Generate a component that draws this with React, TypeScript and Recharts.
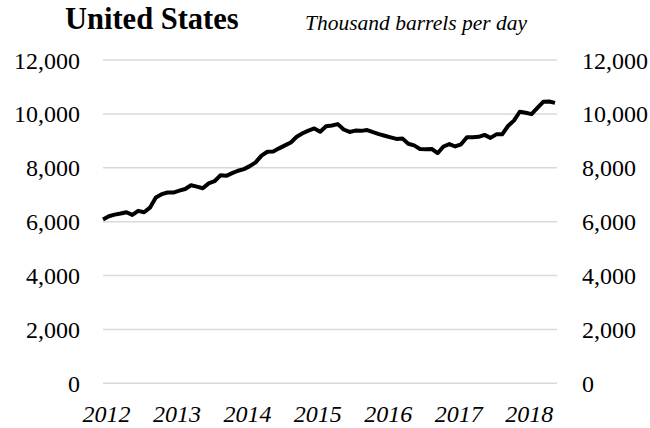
import React from "react";
import { LineChart, Line, XAxis, YAxis, CartesianGrid } from "recharts";

const months: number[] = Array.from({ length: 78 }, (_, i) => i);
const production: number[] = [
  6080, 6200, 6260, 6300, 6350, 6250, 6400, 6350, 6520, 6900,
  7020, 7080, 7080, 7150, 7210, 7350, 7300, 7240, 7420, 7500,
  7720, 7700, 7800, 7890, 7950, 8060, 8200, 8450, 8594, 8600,
  8720, 8830, 8940, 9150, 9280, 9380, 9460, 9340, 9540, 9570,
  9620, 9420, 9330, 9380, 9370, 9400, 9320, 9250, 9190, 9130,
  9070, 9090, 8890, 8830, 8700, 8690, 8700, 8540, 8790, 8880,
  8790, 8870, 9130, 9130, 9150, 9220, 9110, 9240, 9240, 9550,
  9750, 10080, 10040, 9990, 10220, 10450, 10460, 10410,
];
const yearTicks: number[] = [0, 12, 24, 36, 48, 60, 72];
const yearLabels: string[] = ["2012", "2013", "2014", "2015", "2016", "2017", "2018"];
const yTicks: number[] = [0, 2000, 4000, 6000, 8000, 10000, 12000];

const data = months.map((m, i) => ({ m, v: production[i] }));

const FONT = '"Liberation Serif", "Times New Roman", serif';

const fmt = (v: number) => v.toLocaleString("en-US");

export default function App() {
  return (
    <div style={{ position: "absolute", left: 0, top: 0, width: 650, height: 428, background: "#fff" }}>
      <LineChart
        width={650}
        height={428}
        data={data}
        margin={{ top: 60, right: 0, bottom: 0, left: 0 }}
      >
        <CartesianGrid yAxisId="left" vertical={false} stroke="#d9d9d9" strokeWidth={1.5} />
        <XAxis
          dataKey="m"
          type="number"
          domain={[0, 77]}
          ticks={yearTicks}
          tickFormatter={(v: number) => yearLabels[yearTicks.indexOf(v)] ?? ""}
          axisLine={false}
          tickLine={false}
          tickSize={0}
          tickMargin={22}
          height={44.7}
          padding={{ left: 0, right: 2 }}
          interval={0}
          tick={{ fontFamily: FONT, fontSize: 24, fontStyle: "italic", fill: "#000", dx: 3.5 }}
        />
        <YAxis
          yAxisId="left"
          orientation="left"
          domain={[0, 12000]}
          ticks={yTicks}
          tickFormatter={fmt}
          axisLine={false}
          tickLine={false}
          tickSize={0}
          tickMargin={23}
          width={103}
          interval={0}
          tick={{ fontFamily: FONT, fontSize: 24, fill: "#000" }}
        />
        <YAxis
          yAxisId="right"
          orientation="right"
          domain={[0, 12000]}
          ticks={yTicks}
          tickFormatter={fmt}
          axisLine={false}
          tickLine={false}
          tickSize={0}
          tickMargin={25}
          width={93}
          interval={0}
          tick={{ fontFamily: FONT, fontSize: 24, fill: "#000" }}
        />
        <Line
          yAxisId="right"
          type="linear"
          dataKey="v"
          stroke="none"
          strokeWidth={0}
          dot={false}
          activeDot={false}
          legendType="none"
          isAnimationActive={false}
        />
        <Line
          yAxisId="left"
          type="linear"
          dataKey="v"
          stroke="#000"
          strokeWidth={4}
          dot={false}
          strokeLinejoin="round"
          isAnimationActive={false}
        />
      </LineChart>
      <svg
        width={650}
        height={50}
        style={{ position: "absolute", left: 0, top: 0, pointerEvents: "none" }}
      >
        <text x={65} y={29} fontFamily={FONT} fontWeight="bold" fontSize={30.5} fill="#000">
          United States
        </text>
        <text x={305} y={30} fontFamily={FONT} fontStyle="italic" fontSize={21.5} fill="#000">
          Thousand barrels per day
        </text>
      </svg>
    </div>
  );
}
